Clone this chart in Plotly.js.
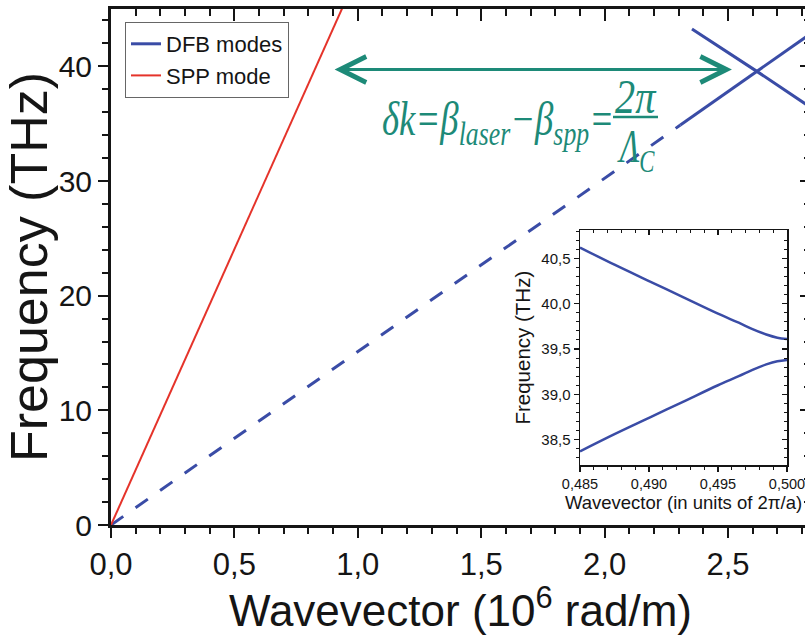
<!DOCTYPE html>
<html><head><meta charset="utf-8">
<script src="https://cdn.plot.ly/plotly-3.0.1.min.js"></script>
<style>html,body{margin:0;padding:0;overflow:hidden;background:#fff}#chart{width:820px;height:635px}</style>
</head><body><div id="chart"></div>
<script>
// ---- data ----
const dfbDashedK = [0, 2.307];
const dfbDashedF = [0, 34.88];
const dfbRisingK = [2.307, 2.617, 2.85];
const dfbRisingF = [34.88, 39.56, 43.08];
const dfbFallingK = [2.354, 2.617, 2.85];
const dfbFallingF = [43.25, 39.56, 36.2];
const sppK = [0, 0.95];
const sppF = [0, 45.7];
const insetK = [0.485, 0.4875, 0.490, 0.4925, 0.495, 0.4965, 0.4975, 0.4985, 0.4993, 0.500];
const insetUpper = [40.62, 40.43, 40.25, 40.07, 39.89, 39.79, 39.72, 39.66, 39.625, 39.61];
const insetLower = [38.37, 38.56, 38.74, 38.92, 39.10, 39.20, 39.27, 39.33, 39.365, 39.38];
const legendNames = ['DFB modes', 'SPP mode'];

// ---- styling ----
const SANS = 'Liberation Sans, Arial, sans-serif';
const SERIF = 'Liberation Serif, Times New Roman, serif';
const BLUE = '#3a4ca6', RED = '#e5332a', TEAL = '#1d8a78', AX = '#151515';
const W = 820, H = 635, L = 111, R = 10, T = 9, B = 110;
const px2x = p => (p - L) / (W - L - R);
const py2y = p => (H - B - p) / (H - T - B);

const traces = [
  {x: dfbRisingK, y: dfbRisingF, mode: 'lines', name: legendNames[0], legendgroup: 'dfb',
   line: {color: BLUE, width: 3}},
  {x: dfbFallingK, y: dfbFallingF, mode: 'lines', name: legendNames[0], legendgroup: 'dfb', showlegend: false,
   line: {color: BLUE, width: 3}},
  {x: dfbDashedK, y: dfbDashedF, mode: 'lines', name: legendNames[0], legendgroup: 'dfb', showlegend: false,
   line: {color: BLUE, width: 3, dash: '15px,15px'}},
  {x: sppK, y: sppF, mode: 'lines', name: legendNames[1], line: {color: RED, width: 2}},
  // invisible carrier so the mirrored frame axes are drawn
  {x: sppK, y: sppF, xaxis: 'x2', yaxis: 'y2', mode: 'lines', showlegend: false, hoverinfo: 'skip',
   line: {color: 'rgba(0,0,0,0)', width: 0}},
  {x: insetK, y: insetUpper, xaxis: 'x3', yaxis: 'y3', mode: 'lines', showlegend: false,
   line: {color: BLUE, width: 2.5, shape: 'spline'}},
  {x: insetK, y: insetLower, xaxis: 'x3', yaxis: 'y3', mode: 'lines', showlegend: false,
   line: {color: BLUE, width: 2.5, shape: 'spline'}},
  {x: insetK, y: insetUpper, xaxis: 'x4', yaxis: 'y4', mode: 'lines', showlegend: false, hoverinfo: 'skip',
   line: {color: 'rgba(0,0,0,0)', width: 0}}
];

const mainX = [0, (W - L - R) / 246.8];
const mainY = [0, 45];
const insX = [0.485, 0.500];
const insY = [38.22, 40.81];

const baseAx = {showgrid: false, zeroline: false, showline: true, linecolor: AX, tickcolor: AX};

const layout = {
  width: W, height: H,
  margin: {l: L, r: R, t: T, b: B},
  paper_bgcolor: '#fff', plot_bgcolor: '#fff',
  separators: ',.',
  font: {family: SANS, color: AX},
  showlegend: true,
  legend: {x: px2x(125), y: py2y(22), xanchor: 'left', yanchor: 'top',
    bgcolor: '#fff', bordercolor: '#666', borderwidth: 1,
    font: {family: SANS, size: 22, color: AX}, tracegroupgap: 0},
  xaxis: Object.assign({}, baseAx, {range: mainX, anchor: 'y', side: 'bottom', linewidth: 3,
    ticks: 'outside', ticklen: 10, tickwidth: 2, tick0: 0, dtick: 0.5, tickformat: '.1f',
    tickfont: {family: SANS, size: 31, color: AX},
    minor: {dtick: 0.1, ticks: 'outside', ticklen: 6, tickwidth: 2, tickcolor: AX},
    title: {text: 'Wavevector (10<sup>6</sup> rad/m)', font: {family: SANS, size: 44, color: AX}, standoff: 14}}),
  yaxis: Object.assign({}, baseAx, {range: mainY, anchor: 'x', side: 'left', linewidth: 3,
    ticks: 'outside', ticklen: 10, tickwidth: 2, tick0: 0, dtick: 10,
    tickfont: {family: SANS, size: 30, color: AX},
    minor: {dtick: 2, ticks: 'outside', ticklen: 6, tickwidth: 2, tickcolor: AX},
    title: {text: '\u00A0\u00A0Frequency (THz)', font: {family: SANS, size: 52, color: AX}, standoff: 8}}),
  xaxis2: Object.assign({}, baseAx, {range: mainX, overlaying: 'x', anchor: 'y', side: 'top', linewidth: 3,
    ticks: 'inside', ticklen: 12, tickwidth: 2, tick0: 0, dtick: 0.5, showticklabels: false,
    minor: {dtick: 0.1, ticks: 'inside', ticklen: 7, tickwidth: 2, tickcolor: AX}}),
  yaxis2: Object.assign({}, baseAx, {range: mainY, overlaying: 'y', anchor: 'x', side: 'right', linewidth: 3,
    ticks: 'inside', ticklen: 10, tickwidth: 2, tick0: 0, dtick: 10, showticklabels: false,
    minor: {dtick: 2, ticks: 'inside', ticklen: 6, tickwidth: 2, tickcolor: AX}}),
  xaxis3: Object.assign({}, baseAx, {domain: [px2x(580), px2x(787)], anchor: 'y3', range: insX, linewidth: 1.5,
    ticks: 'outside', ticklen: 5, tickwidth: 1.5, tick0: 0.485, dtick: 0.005, tickformat: '.3f',
    tickfont: {family: SANS, size: 14.5, color: AX},
    minor: {dtick: 0.001, ticks: 'outside', ticklen: 3, tickwidth: 1, tickcolor: AX},
    title: {text: 'Wavevector (in units of 2π/a)', font: {family: SANS, size: 18.5, color: AX}, standoff: 0}}),
  yaxis3: Object.assign({}, baseAx, {domain: [py2y(465), py2y(230.3)], anchor: 'x3', range: insY, linewidth: 1.5,
    ticks: 'outside', ticklen: 5, tickwidth: 1.5, tick0: 38.5, dtick: 0.5, tickformat: '.1f',
    tickfont: {family: SANS, size: 15, color: AX},
    minor: {dtick: 0.1, ticks: 'outside', ticklen: 3, tickwidth: 1, tickcolor: AX},
    title: {text: 'Frequency (THz)', font: {family: SANS, size: 20.5, color: AX}, standoff: 5}}),
  xaxis4: Object.assign({}, baseAx, {overlaying: 'x3', anchor: 'y3', side: 'top', range: insX, linewidth: 1.5,
    ticks: 'inside', ticklen: 5, tickwidth: 1.5, tick0: 0.485, dtick: 0.005, showticklabels: false,
    minor: {dtick: 0.001, ticks: 'inside', ticklen: 3, tickwidth: 1, tickcolor: AX}}),
  yaxis4: Object.assign({}, baseAx, {overlaying: 'y3', anchor: 'x3', side: 'right', range: insY, linewidth: 1.5,
    ticks: 'inside', ticklen: 5, tickwidth: 1.5, tick0: 38.5, dtick: 0.5, showticklabels: false,
    minor: {dtick: 0.1, ticks: 'inside', ticklen: 3, tickwidth: 1, tickcolor: AX}}),
  annotations: [
    {xref: 'x', yref: 'y', axref: 'x', ayref: 'y', x: 2.516, y: 39.73, ax: 0.90, ay: 39.73, text: '',
     showarrow: true, arrowside: 'end+start', arrowhead: 5, startarrowhead: 5,
     arrowsize: 1.7, startarrowsize: 1.7, arrowwidth: 3, arrowcolor: TEAL},
    {xref: 'paper', yref: 'paper', x: px2x(380), y: py2y(122), xanchor: 'left', yanchor: 'middle', showarrow: false,
     text: '<i>δk=β<sub>laser</sub>−β<sub>spp</sub>=</i>', font: {family: SERIF, size: 48, color: TEAL}},
    {xref: 'paper', yref: 'paper', x: px2x(636), y: py2y(97), xanchor: 'center', yanchor: 'middle', showarrow: false,
     text: '<i>2π</i>', font: {family: SERIF, size: 48, color: TEAL}},
    {xref: 'paper', yref: 'paper', x: px2x(636), y: py2y(150), xanchor: 'center', yanchor: 'middle', showarrow: false,
     text: '<i>Λ<sub>C</sub></i>', font: {family: SERIF, size: 46, color: TEAL}}
  ],
  shapes: [
    {type: 'line', xref: 'paper', yref: 'paper', x0: px2x(613), x1: px2x(658), y0: py2y(117), y1: py2y(117),
     line: {color: TEAL, width: 2.5}}
  ]
};

// horizontally condense the formula glyphs (the reference equation is set very narrow)
function squeeze(el, target, anchor) {
  const bb = el.getBBox();
  if (!bb.width) return;
  const s = Math.min(1, target / bb.width);
  const cx = anchor === 'left' ? bb.x : bb.x + bb.width / 2;
  const prev = el.getAttribute('transform') || '';
  el.setAttribute('transform', prev + ' translate(' + cx + ',0) scale(' + s + ',1) translate(' + (-cx) + ',0)');
}

Plotly.newPlot('chart', traces, layout, {displayModeBar: false, staticPlot: true}).then(gd => {
  const widths = {1: [232, 'left'], 2: [42, 'center'], 3: [38, 'center']};
  gd.querySelectorAll('g.annotation').forEach(g => {
    const i = +g.getAttribute('data-index');
    const t = g.querySelector('text.annotation-text');
    if (widths[i] && t) squeeze(t, widths[i][0], widths[i][1]);
  });
});
</script>
</body></html>
